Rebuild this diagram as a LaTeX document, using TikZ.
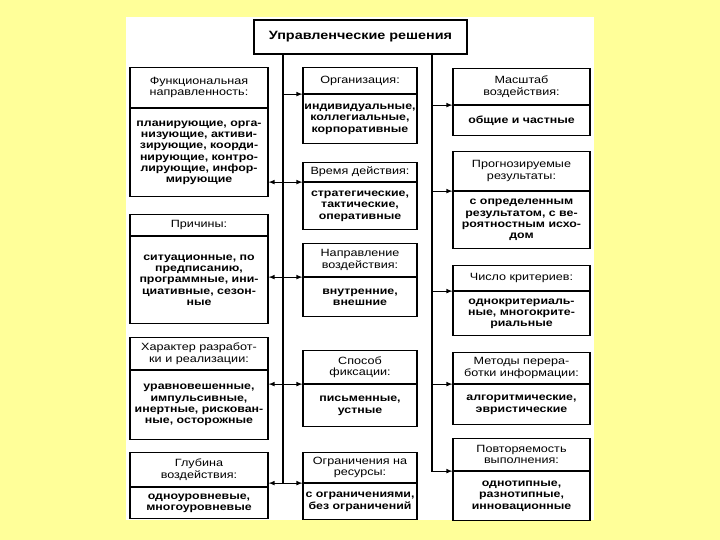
\documentclass[tikz,border=0pt]{standalone}
\usepackage{fontspec}
\setmainfont[FakeStretch=1.2]{Liberation Sans}
\usetikzlibrary{positioning}
\definecolor{bgyellow}{RGB}{255,255,153}
\begin{document}
\begin{tikzpicture}[x=1pt,y=-1pt,>=latex,line width=1.1pt,
  hd/.style={draw,inner sep=0pt,align=center,anchor=north,font=\fontsize{10.5}{11.5}\selectfont},
  bd/.style={draw,inner sep=0pt,align=center,font=\bfseries\fontsize{10.3}{11.3}\selectfont},
  lc/.style={minimum width=138pt},
  mc/.style={minimum width=114pt},
  rc/.style={minimum width=137pt}]
  \fill[bgyellow](0,0)rectangle(720,540);
  \useasboundingbox(0,0)rectangle(720,540);
  \fill[white](126,17)rectangle(594,520);
  \node[draw,inner sep=0pt,minimum width=213pt,minimum height=34pt,font=\bfseries\fontsize{12}{14}\selectfont](title) at(360.5,37){Управленческие решения};
  \node[hd,lc,minimum height=40pt](fun) at(199,67){Функциональная\\направленность:};
  \node[bd,lc,minimum height=88pt,below=0pt of fun](fun-b){планирующие, орга-\\низующие, активи-\\зирующие, коорди-\\нирующие, контро-\\лирующие, инфор-\\мирующие};
  \node[hd,lc,minimum height=21pt](pri) at(199,214){Причины:};
  \node[bd,lc,minimum height=87pt,below=0pt of pri](pri-b){ситуационные, по\\предписанию,\\программные, ини-\\циативные, сезон-\\ные};
  \node[hd,lc,minimum height=32pt](har) at(199,337){Характер разработ-\\ки и реализации:};
  \node[bd,lc,minimum height=69pt,below=0pt of har](har-b){уравновешенные,\\импульсивные,\\инертные, рискован-\\ные, осторожные};
  \node[hd,lc,minimum height=34pt](glu) at(199,452){Глубина\\воздействия:};
  \node[bd,lc,minimum height=31pt,below=0pt of glu](glu-b){одноуровневые,\\многоуровневые};
  \node[hd,mc,minimum height=26pt](org) at(360,67){Организация:};
  \node[bd,mc,minimum height=49pt,below=0pt of org](org-b){индивидуальные,\\коллегиальные,\\корпоративные};
  \node[hd,mc,minimum height=19pt](vre) at(360,162){Время действия:};
  \node[bd,mc,minimum height=47pt,below=0pt of vre](vre-b){стратегические,\\тактические,\\оперативные};
  \node[hd,mc,minimum height=33pt](nap) at(360,243){Направление\\воздействия:};
  \node[bd,mc,minimum height=39pt,below=0pt of nap](nap-b){внутренние,\\внешние};
  \node[hd,mc,minimum height=33pt](spo) at(360,350){Способ\\фиксации:};
  \node[bd,mc,minimum height=42pt,below=0pt of spo](spo-b){письменные,\\устные};
  \node[hd,mc,minimum height=30pt](ogr) at(360,452){Ограничения на\\ресурсы:};
  \node[bd,mc,minimum height=36pt,below=0pt of ogr](ogr-b){с ограничениями,\\без ограничений};
  \node[hd,rc,minimum height=36pt](mas) at(521.5,68){Масштаб\\воздействия:};
  \node[bd,rc,minimum height=30pt,below=0pt of mas](mas-b){общие и частные};
  \node[hd,rc,minimum height=39pt](pro) at(521.5,151){Прогнозируемые\\результаты:};
  \node[bd,rc,minimum height=57pt,below=0pt of pro](pro-b){с определенным\\результатом, с ве-\\роятностным исхо-\\дом};
  \node[hd,rc,minimum height=25pt](chi) at(521.5,265){Число критериев:};
  \node[bd,rc,minimum height=44pt,below=0pt of chi](chi-b){однокритериаль-\\ные, многокрите-\\риальные};
  \node[hd,rc,minimum height=31pt](met) at(521.5,352){Методы перера-\\ботки информации:};
  \node[bd,rc,minimum height=40pt,below=0pt of met](met-b){алгоритмические,\\эвристические};
  \node[hd,rc,minimum height=32pt](pov) at(521.5,438){Повторяемость\\выполнения:};
  \node[bd,rc,minimum height=49pt,below=0pt of pov](pov-b){однотипные,\\разнотипные,\\инновационные};
  \coordinate(tl) at(283,0);
  \coordinate(tr) at(432,0);
  \draw(title.south -| tl)--(ogr.south west -| tl);
  \draw[->](org.south west -| tl)--(org.south west);
  \foreach \m in {vre,nap,spo,ogr}
    \draw[<->](\m.south west -| fun.east)--(\m.south west);
  \foreach \r in {mas,pro,chi,met}
    \draw[->](\r.south west -| tr)--(\r.south west);
  \draw[->](title.south -| tr)--(pov.south west -| tr)--(pov.south west);
\end{tikzpicture}
\end{document}
